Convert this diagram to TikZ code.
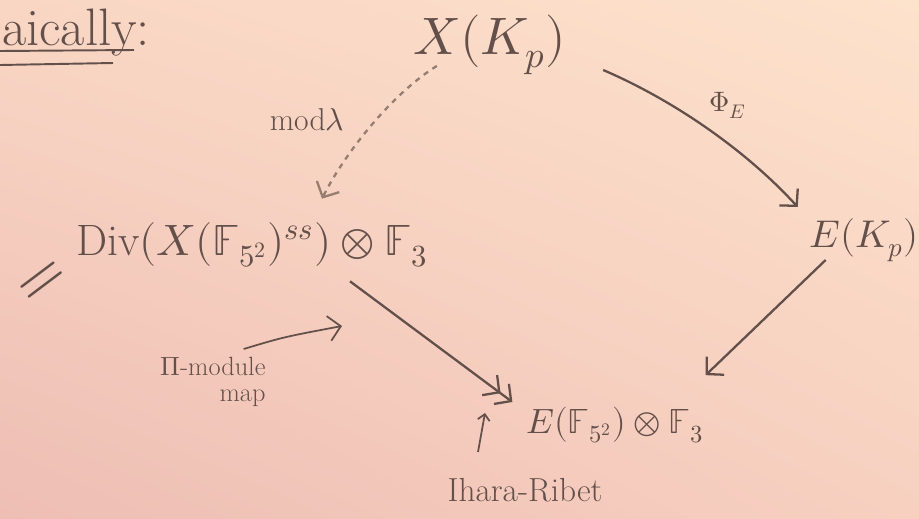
\documentclass[tikz,border=0pt]{standalone}
\usepackage{unicode-math}
\usetikzlibrary{arrows.meta,calc,shadings}

\definecolor{ink}{RGB}{100,80,74}
\definecolor{inklight}{RGB}{150,125,112}
\definecolor{paperTL}{RGB}{249,214,196}
\definecolor{paperTR}{RGB}{253,226,204}
\definecolor{paperBL}{RGB}{238,190,180}
\definecolor{paperBR}{RGB}{247,208,192}

\newcommand{\fs}[1]{\fontsize{#1}{#1}\selectfont}

\begin{document}
\begin{tikzpicture}[x=0.02cm, y=-0.02cm,
    obj/.style={inner sep=1pt, text=ink},
    lbl/.style={inner sep=1pt, text=ink},
    arrow/.style={-{Straight Barb[length=2.4mm,width=5mm]}, line width=1.3pt, draw=ink},
    twohead/.style={-{Straight Barb[length=2.4mm,width=5mm] Straight Barb[length=2.4mm,width=5mm]}, line width=1.3pt, draw=ink},
    tick/.style={-{Straight Barb[length=1.2mm,width=2.4mm]}, line width=1pt, draw=ink}
]
\useasboundingbox (0,0) rectangle (919,518);
\shade[upper left=paperTL, upper right=paperTR, lower left=paperBL, lower right=paperBR] (0,0) rectangle (919,518);

% heading, cut off at the left
\node[lbl, anchor=base west, font=\fs{30}] (alg) at (0,45) {aically:};
\draw[ink, line width=1.1pt] (0,51) -- (134,50);
\draw[ink, line width=1.1pt] (0,65) -- (113,63);

% objects
\node[obj, font=\fs{30}] (xkp) at (490,45)  {$X(K_p)$};
\node[obj, font=\fs{22}] (ekp) at (864,240) {$E(K_p)$};
\node[obj, font=\fs{25}] (div) at (252,245) {$\mathrm{Div}(X(\mathbb{F}_{5^2})^{ss})\otimes\mathbb{F}_3$};
\node[obj, font=\fs{20}] (efp) at (615,425) {$E(\mathbb{F}_{5^2})\otimes\mathbb{F}_3$};
\node[obj, inner sep=0pt, font=\fs{36}, rotate=37] (eq) at (44,283) {$=$};

% labels
\node[lbl, font=\fs{18}] (modl) at (307,120) {mod$\lambda$};
\node[lbl, font=\fs{16}] (phie) at (728,105) {$\Phi_E$};
\node[lbl, font=\fs{15}, align=right] (pimod) at (213,382) {$\Pi$-module\\map};
\node[lbl, font=\fs{19}] (ir) at (525,490) {Ihara-Ribet};
\coordinate (pimodtip) at (342,326);
\coordinate (irtip) at (485,413);

% maps
\draw[arrow, dashed, draw=inklight] ($(xkp.south west)+(25,-11)$) .. controls +(-45,28) and +(23,-46) .. ($(div.north)+(70,-22)$);
\draw[arrow] ($(xkp.east)+(35,25)$) .. controls +(70,30) and +(-52,-57) .. ($(ekp.west)+(-10,-33)$);
\draw[arrow] ($(ekp.south west)+(18,-4)$) -- ($(efp.north east)+(0,-30)$);
\draw[twohead] ($(div.south)+(98,12)$) -- ($(efp.west)+(-12,-23)$);
\draw[arrow, line width=1pt] ($(pimod.north east)+(-24,-6)$) .. controls +(40,-12) .. (pimodtip);
\draw[tick] ($(ir.north)+(-47,-24)$) -- (irtip);
\end{tikzpicture}
\end{document}
